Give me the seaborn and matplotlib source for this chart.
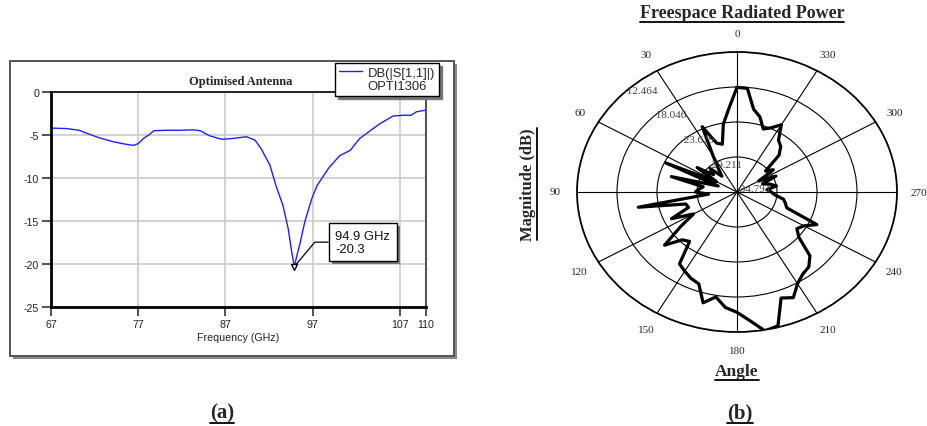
import numpy as np
import matplotlib
matplotlib.use('Agg')
import matplotlib.pyplot as plt
import matplotlib.patheffects as pe
import matplotlib.transforms as mtransforms
from matplotlib.lines import Line2D
from matplotlib.patches import Rectangle
import seaborn as sns

# ---- (a) return loss of the optimised antenna ----
FREQ_GHZ = [67.0, 68.8, 70.2, 71.5, 72.6, 74.2, 75.7, 76.5, 77.0, 77.6,
            78.2, 78.8, 80.3, 81.8, 83.3, 84.1, 85.2, 86.6, 87.9, 89.4,
            90.4, 91.1, 92.1, 92.8, 93.6, 94.2, 94.6, 94.9, 95.2, 95.6,
            96.1, 96.9, 97.5, 98.8, 100.1, 101.3, 102.4, 103.6, 104.7, 106.2,
            107.4, 108.3, 108.9, 110.0]
S11_DB = [-4.2, -4.25, -4.45, -4.95, -5.35, -5.8, -6.1, -6.2, -6.0, -5.4,
          -5.0, -4.5, -4.45, -4.45, -4.4, -4.5, -5.1, -5.5, -5.4, -5.2,
          -5.6, -6.6, -8.5, -10.9, -13.2, -15.9, -18.6, -20.3, -19.0, -17.4,
          -15.1, -12.4, -10.9, -8.9, -7.4, -6.8, -5.4, -4.5, -3.7, -2.8,
          -2.7, -2.7, -2.3, -2.1]
FREQ_TICKS = [67, 77, 87, 97, 107, 110]
S11_TICKS = [0, -5, -10, -15, -20, -25]

# ---- (b) freespace radiated power ----
ANGLE_DEG = list(range(0, 360, 5))
POWER_DB = [-18.1, -21.5, -23.8, -26.9, -26.5, -23.3, -28.1, -30.3, -31.5, -29.5,
            -30.5, -28.0, -31.5, -23.8, -32.0, -25.3, -30.0, -29.5, -29.0, -30.8,
            -20.8, -27.4, -27.6, -24.7, -27.8, -25.2, -21.6, -24.0, -24.5, -20.8,
            -20.2, -19.6, -19.2, -16.5, -17.8, -16.3, -15.6, -14.2, -12.3, -12.7,
            -16.8, -16.2, -17.9, -18.8, -19.2, -20.4, -23.5, -24.6, -24.0, -22.5,
            -27.4, -27.8, -28.2, -29.5, -30.0, -30.6, -29.2, -30.0, -31.0, -28.8,
            -31.3, -28.6, -29.6, -26.5, -25.3, -24.7, -22.4, -23.5, -24.1, -22.4,
            -21.4, -18.2]
RING_DB = [-34.794, -29.211, -23.629, -18.046, -12.464]
ANGLE_TICKS = list(range(0, 360, 30))

sns.set_theme(style='white')
plt.rcParams['font.family'] = ['Liberation Sans', 'DejaVu Sans']
plt.rcParams['axes.unicode_minus'] = False
SERIF = ['Liberation Serif', 'DejaVu Serif']
BLUE = '#1f1fff'

W, H = 927, 427
fig = plt.figure(figsize=(W / 100, H / 100), dpi=100)


def px_rect(x0, y0, x1, y1):
    # pixel box (origin top-left) -> figure fraction [l, b, w, h]
    return [x0 / W, 1 - y1 / H, (x1 - x0) / W, (y1 - y0) / H]


# frame with shadow around panel (a)
fig.add_artist(Rectangle((13 / W, 1 - 360 / H), 444 / W, 295 / H, transform=fig.transFigure,
                         fc='#8a8a8a', ec='none', zorder=-2))
fig.add_artist(Rectangle((10 / W, 1 - 357 / H), 444 / W, 295 / H, transform=fig.transFigure,
                         fc='white', ec='#555555', lw=1.4, zorder=-1))

ax = fig.add_axes(px_rect(51, 93, 426, 308))
sns.lineplot(x=FREQ_GHZ, y=S11_DB, ax=ax, color=BLUE, lw=1.0)
ax.set_xlim(67, 110)
ax.set_ylim(-25, 0)
ax.set_xticks(FREQ_TICKS)
ax.set_yticks(S11_TICKS)
ax.grid(True, color='#cbcbcb', lw=1.2)
ax.tick_params(direction='out', length=6.5, width=1.1, color='#222222', labelsize=7.7, pad=2,
               left=True, bottom=True, labelcolor='#222222')
for side, lw, col in [('left', 2.0, 'black'), ('bottom', 2.0, 'black'),
                      ('top', 1.2, 'black'), ('right', 1.5, '#555555')]:
    ax.spines[side].set_linewidth(lw)
    ax.spines[side].set_color(col)
ax.set_xlabel('Frequency (GHz)', fontsize=7.7, labelpad=2, color='#222222')
fig.text(241 / W, 1 - 82 / H, 'Optimised Antenna', family=SERIF, weight='bold',
         fontsize=9, ha='center', va='center')

# marker at the minimum
i_min = int(np.argmin(S11_DB))
f_min, db_min = FREQ_GHZ[i_min], S11_DB[i_min]
ax.plot([f_min], [db_min], marker='v', ms=5, mfc='white', mec='black', mew=1.0, zorder=5)
ann = ax.annotate(f'{f_min:.1f} GHz\n{db_min:.1f}', xy=(f_min, db_min), xytext=(29.5, 17.6),
                  textcoords='offset points', ha='left', va='center', fontsize=9.4,
                  color='#111111', linespacing=1.1,
                  bbox=dict(boxstyle='square,pad=0.5', fc='white', ec='black', lw=1.0),
                  arrowprops=dict(arrowstyle='-', color='black', lw=0.9, shrinkA=0, shrinkB=2,
                                  connectionstyle='angle,angleA=0,angleB=50,rad=0'),
                  zorder=6)
ann.get_bbox_patch().set_path_effects([pe.SimplePatchShadow(offset=(2.2, -2.2), shadow_rgbFace='#777777', alpha=1.0),
                                       pe.Normal()])

handles = [Line2D([], [], color=BLUE, lw=1.0), Line2D([], [], lw=0)]
leg = ax.legend(handles, ['DB(|S[1,1]|)', 'OPTI1306'], loc='upper right',
                bbox_to_anchor=(439 / W, 1 - 64 / H), bbox_transform=fig.transFigure,
                frameon=True, fancybox=False, shadow={'color': '#777777', 'alpha': 1.0},
                fontsize=9.4, handlelength=1.8, handletextpad=0.4, borderpad=0.3,
                labelspacing=0.05, borderaxespad=0)
leg.get_frame().set_edgecolor('black')
leg.get_frame().set_linewidth(1.0)
leg.set_zorder(10)

# ---- polar panel ----
pax = fig.add_axes(px_rect(577, 53, 897, 333), projection='polar')
pax.set_aspect('auto')
pax.set_theta_zero_location('N')
pax.set_theta_direction(1)
theta = np.deg2rad(ANGLE_DEG + [360])
power = POWER_DB + [POWER_DB[0]]
sns.lineplot(x=theta, y=power, ax=pax, color='black', lw=2.3, sort=False, estimator=None)
pax.set_rlim(RING_DB[0], RING_DB[-1])
pax.set_rticks(RING_DB[1:-1])
pax.set_yticklabels([])
pax.set_xticks(np.deg2rad(ANGLE_TICKS))
pax.set_xticklabels([])
pax.grid(True, color='black', lw=0.8)
pax.spines['polar'].set_linewidth(1.3)
pax.spines['polar'].set_color('black')
pax.set_xlabel('')
pax.set_ylabel('')

r_span = RING_DB[-1] - RING_DB[0]
for a in ANGLE_TICKS:
    pax.text(np.deg2rad(a), RING_DB[0] + 1.135 * r_span, str(a), ha='center', va='center',
             family=SERIF, fontsize=8, clip_on=False)
ring_tf = mtransforms.offset_copy(pax.transData, fig=fig, y=3, units='dots')
for v in RING_DB:
    pax.text(np.deg2rad(45), v, f'{v:.3f}', ha='left', va='center', family=SERIF,
             fontsize=8, color='#444444', clip_on=False, transform=ring_tf)

# titles and captions (underlined, bold serif)
t_title = fig.text(742 / W, 1 - 14 / H, 'Freespace Radiated Power', family=SERIF, weight='bold',
                   fontsize=13, ha='center', va='center')
t_mag = fig.text(528 / W, 1 - 185 / H, 'Magnitude (dB)', family=SERIF, weight='bold',
                 fontsize=12, ha='center', va='center', rotation=90)
t_ang = fig.text(737 / W, 1 - 372 / H, 'Angle', family=SERIF, weight='bold',
                 fontsize=12.5, ha='center', va='center')
t_a = fig.text(222 / W, 1 - 413 / H, '(a)', family=SERIF, weight='bold',
               fontsize=15, ha='center', va='center')
t_b = fig.text(740 / W, 1 - 413 / H, '(b)', family=SERIF, weight='bold',
               fontsize=15, ha='center', va='center')

fig.canvas.draw()
for t in [t_title, t_ang, t_a, t_b, t_mag]:
    bb = t.get_window_extent()
    if t.get_rotation() == 90:
        xs, ys = [bb.x1 + 1, bb.x1 + 1], [bb.y0, bb.y1]
    else:
        xs, ys = [bb.x0, bb.x1], [bb.y0 - 0.5, bb.y0 - 0.5]
    fig.add_artist(Line2D([x / W for x in xs], [y / H for y in ys], color='black', lw=1.3,
                          transform=fig.transFigure))

fig.savefig('out.png', dpi=100)
